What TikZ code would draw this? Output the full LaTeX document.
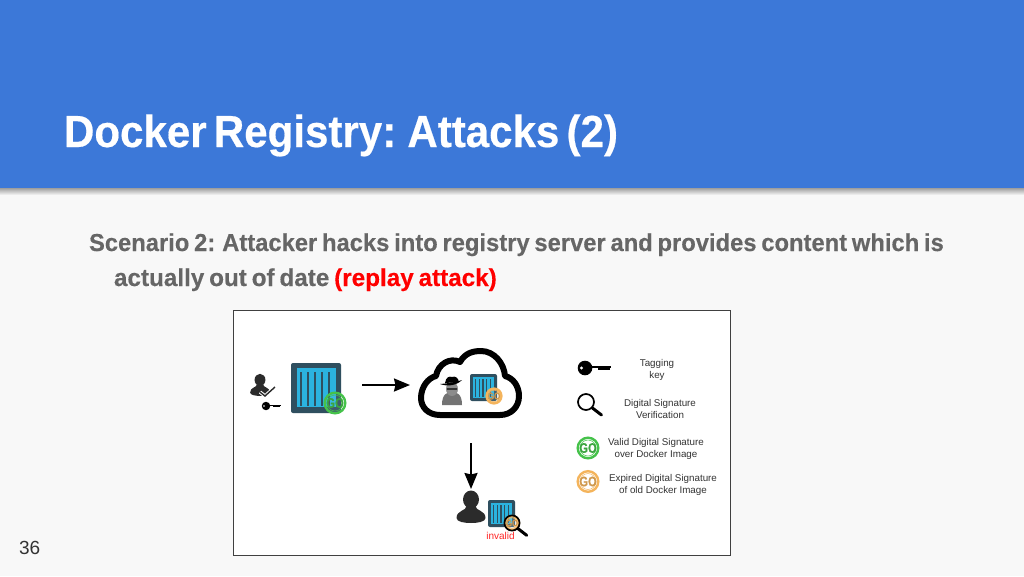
\documentclass[tikz,border=0pt]{standalone}
\usepackage{fontspec}
\setmainfont{Liberation Sans}
\newfontfamily\headfont[FakeStretch=.935,WordSpace=.62,FakeBold=.4]{Liberation Sans Bold}
\newfontfamily\bodyfont[FakeStretch=.97,WordSpace=.72,FakeBold=.3]{Liberation Sans Bold}
\newfontfamily\bodywidefont[FakeStretch=.99,WordSpace=.72,FakeBold=.3]{Liberation Sans Bold}
\newfontfamily\gofont[FakeStretch=.8,FakeBold=.5]{Liberation Sans Bold}
\usetikzlibrary{arrows.meta}
\definecolor{headblue}{HTML}{3C78D8}
\definecolor{pagegray}{HTML}{F8F8F8}
\definecolor{bodygray}{HTML}{666666}
\definecolor{boxblue}{HTML}{2BB3DF}
\definecolor{boxdark}{HTML}{2F4F5F}
\definecolor{gogreen}{HTML}{45C24A}
\definecolor{goorange}{HTML}{F4B45C}
\definecolor{iconblack}{HTML}{2B2B2B}
\tikzset{
	arrow/.style={-{Stealth[inset=1.5pt,length=16pt,width=13pt]},line width=2.2pt,black},
	anchorbox/.style={inner sep=0pt,outer sep=0pt},
	legendtext/.style={align=center,font=\fontsize{9.8}{12.2}\selectfont,text=black!80},
	pics/container/.style={code={
		\fill[boxdark,rounded corners=2pt] (-25,-25) rectangle (25,25);
		\fill[boxblue] (-19.5,-20) rectangle (20,19);
		\foreach \k in {-15,-8,-1,6,13}{
			\fill[boxdark] (\k-1,-16) rectangle (\k+1,18);
		}
	}},
	pics/gobadge/.style 2 args={code={
		\fill[white,fill opacity=#2] (0,0) circle (11);
		\draw[#1,line width=2.4pt] (0,0) circle (10.3);
		\draw[#1,line width=.5pt] (0,0) circle (8);
		\node[anchorbox,transform shape,text=#1!85!black,font=\fontsize{14}{14}\gofont] (gotext) at (0,0) {GO};
	}},
	pics/keyicon/.style={code={
		\fill[black] (-9.5,0) circle (7.3);
		\fill[black] (-4,-1.6) rectangle (16.5,0.4);
		\fill[black] (3,0.4) rectangle (15.5,2);
		\fill[white] (-13,0) circle (1.6);
	}},
	pics/lensicon/.style={code={
		\draw[line width=1.7pt,black] (0,0) circle (8);
		\draw[line width=3pt,black,line cap=round] (6.4,6) -- (15.5,13);
	}},
	pics/usericon/.style={code={
		\fill[iconblack] (0,-7.5) ellipse (8 and 9);
		\fill[iconblack] (-4.5,-1) .. controls (-4.5,4) and (-14.5,3) .. (-14.5,11)
			.. controls (-14.5,15) and (-6,16) .. (0,16)
			.. controls (6,16) and (14.5,15) .. (14.5,11)
			.. controls (14.5,3) and (4.5,4) .. (4.5,-1) -- cycle;
	}},
}
\begin{document}
\begin{tikzpicture}[x=1pt,y=-1pt,>=stealth]
	\useasboundingbox (0,0) rectangle (1024,576);
	\fill[pagegray] (0,0) rectangle (1024,576);
	\shade[top color=black!38,bottom color=pagegray] (0,188) rectangle (1024,195);
	\fill[headblue] (0,0) rectangle (1024,188);
	\node[anchorbox,anchor=base west,text=white,font=\fontsize{45}{45}\headfont] (title) at (64,147) {Docker Registry: Attacks (2)};
	\node[anchorbox,anchor=base west,text=bodygray,font=\fontsize{24.5}{24.5}\bodyfont] (lineone) at (89,251) {Scenario 2: Attacker hacks into registry server and provides content which is};
	\node[anchorbox,anchor=base west,text=bodygray,font=\fontsize{24.5}{24.5}\bodywidefont] (linetwo) at (114,286) {actually out of date \textcolor{red}{(replay attack)}};
	\node[anchorbox,anchor=base west,text=black!80,font=\fontsize{19}{19}\selectfont] (pagenum) at (19,554) {36};
	% figure frame
	\draw[line width=1pt,fill=white,draw=black!75] (233,310.5) rectangle (730,555);
	% signer
	\pic[scale=.68] at (260,385) {usericon};
	\draw[white,line width=3.4pt] (260,392) -- (265,396) -- (275,387);
	\draw[iconblack,line width=1.4pt] (260,392) -- (265,396) -- (275,387);
	\pic[scale=.58] at (271.5,406) {keyicon};
	\pic at (316,388) {container};
	\pic at (335,403) {gobadge={gogreen}{.08}};
	% attacker cloud
	\draw[black,line width=6pt,fill=white,line join=round]
		(440,415) .. controls (428,415) and (421,407) .. (421,398)
		.. controls (421,387) and (428,378) .. (436,376)
		.. controls (438,364) and (450,357) .. (460,362)
		.. controls (465,353) and (473,351) .. (481,351)
		.. controls (494,351) and (504,363) .. (505,376)
		.. controls (513,378) and (519,386) .. (519,396)
		.. controls (519,407) and (511,415) .. (500,415) -- cycle;
	\fill[black!55] (442,405) .. controls (442,394) and (447,392) .. (452,392)
		.. controls (457,392) and (462,394) .. (462,405) -- cycle;
	\fill[black!45] (452,389) ellipse (6 and 7);
	\fill[black!80] (447,387.5) rectangle (457,390);
	\fill[black] (440,384) .. controls (447,383.5) and (456,382) .. (462,380)
		.. controls (456,386) and (447,386.5) .. (440,384) -- cycle;
	\fill[black] (445,383) .. controls (446,377) and (449,376) .. (452,377)
		.. controls (455,376) and (458,377) .. (459,382) -- cycle;
	\pic[scale=.54] at (483.5,387.5) {container};
	\pic[scale=.72] at (494,396) {gobadge={goorange}{.1}};
	% client
	\pic at (471,507) {usericon};
	\pic[scale=.54] at (501.5,513.5) {container};
	\pic[scale=.68] at (512,523) {gobadge={goorange}{.2}};
	\pic[scale=.95] at (512,523) {lensicon};
	\node[anchorbox,text=red!85,font=\fontsize{10}{10}\selectfont] (invalid) at (500.5,536) {invalid};
	% connectors
	\node[anchorbox,minimum width=92pt,minimum height=50pt] (signed) at (316,385) {};
	\node[anchorbox,minimum width=110pt,minimum height=116pt] (cloud) at (465,385) {};
	\node[anchorbox,minimum width=30pt,minimum height=50pt] (client) at (471,514) {};
	\draw[arrow] (signed.east) -- (cloud.west);
	\draw[arrow] (cloud.south -| client.north) -- (client.north);
	% legend
	\pic at (594.5,368) {keyicon};
	\pic at (586,402) {lensicon};
	\pic at (588,448) {gobadge={gogreen}{.9}};
	\pic at (588,481.5) {gobadge={goorange}{.9}};
	\node[legendtext] (tagging) at (657,370) {Tagging\\key};
	\node[legendtext] (verify) at (660,409) {Digital Signature\\Verification};
	\node[legendtext] (valid) at (656,449) {Valid Digital Signature\\over Docker Image};
	\node[legendtext] (expired) at (663,485) {Expired Digital Signature\\of old Docker Image};
\end{tikzpicture}
\end{document}
